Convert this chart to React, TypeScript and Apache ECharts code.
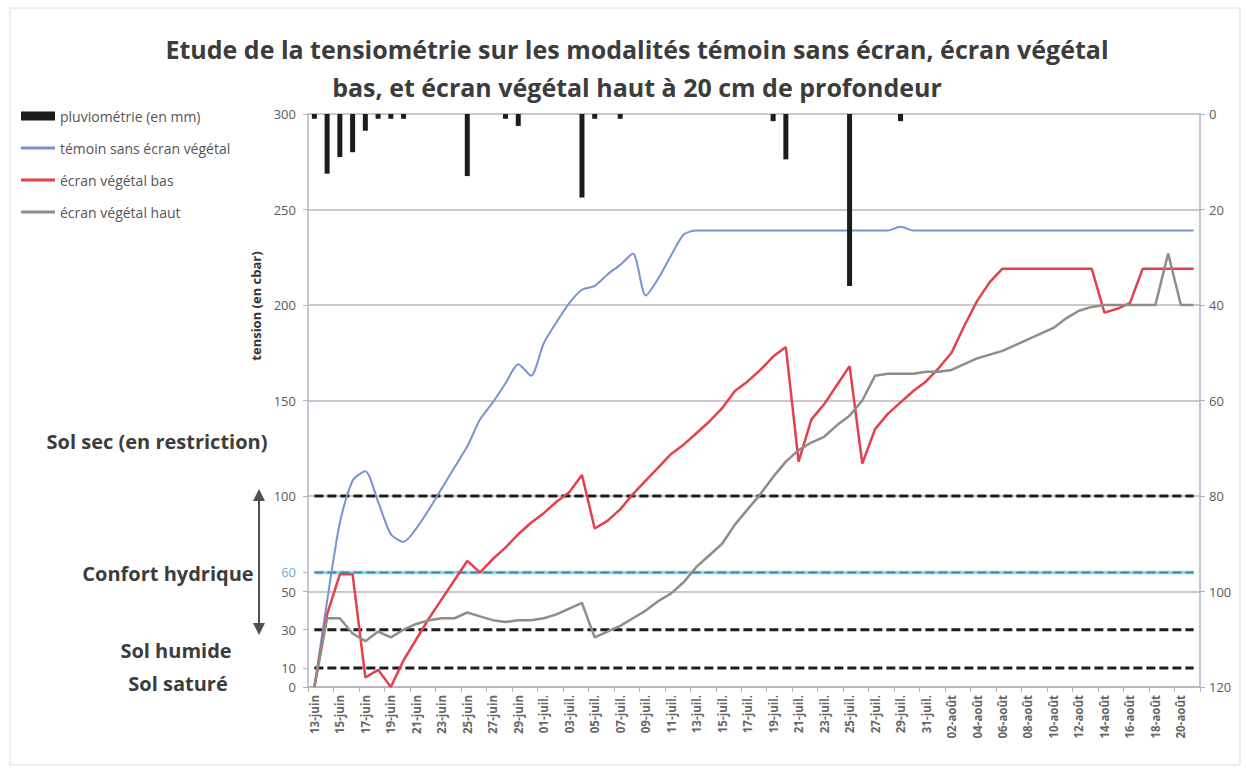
import React, { useEffect, useRef } from "react";
import * as echarts from "echarts";

const FONT = '"Open Sans", "Noto Sans", "DejaVu Sans", sans-serif';

const dates = [
  "13-juin", "14-juin", "15-juin", "16-juin", "17-juin", "18-juin", "19-juin", "20-juin", "21-juin", "22-juin",
  "23-juin", "24-juin", "25-juin", "26-juin", "27-juin", "28-juin", "29-juin", "30-juin", "01-juil.", "02-juil.",
  "03-juil.", "04-juil.", "05-juil.", "06-juil.", "07-juil.", "08-juil.", "09-juil.", "10-juil.", "11-juil.", "12-juil.",
  "13-juil.", "14-juil.", "15-juil.", "16-juil.", "17-juil.", "18-juil.", "19-juil.", "20-juil.", "21-juil.", "22-juil.",
  "23-juil.", "24-juil.", "25-juil.", "26-juil.", "27-juil.", "28-juil.", "29-juil.", "30-juil.", "31-juil.", "01-août",
  "02-août", "03-août", "04-août", "05-août", "06-août", "07-août", "08-août", "09-août", "10-août", "11-août",
  "12-août", "13-août", "14-août", "15-août", "16-août", "17-août", "18-août", "19-août", "20-août", "21-août",
];

// pluviométrie (mm) – right axis, inverted
const rain = [
  1, 12.5, 9, 8, 3.5, 1, 1, 1, null, null,
  null, null, 13, null, null, 1, 2.5, null, null, null,
  null, 17.5, 1, null, 1, null, null, null, null, null,
  null, null, null, null, null, null, 1.5, 9.5, null, null,
  null, null, 36, null, null, null, 1.5, null, null, null,
  null, null, null, null, null, null, null, null, null, null,
  null, null, null, null, null, null, null, null, null, null,
];

// témoin sans écran végétal (cbar)
const temoin = [
  0, 45, 86, 108, 113, 97, 80, 76, 83, 93,
  104, 115, 126, 140, 149, 159, 169, 163, 180, 191,
  201, 208, 210, 216, 221, 227, 205, 214, 226, 237,
  239, 239, 239, 239, 239, 239, 239, 239, 239, 239,
  239, 239, 239, 239, 239, 239, 241, 239, 239, 239,
  239, 239, 239, 239, 239, 239, 239, 239, 239, 239,
  239, 239, 239, 239, 239, 239, 239, 239, 239, 239,
];

// écran végétal bas (cbar)
const ecranBas = [
  0, 38, 59, 59, 5, 9, 0, 14, 25, 36,
  46, 56, 66, 60, 67, 73, 80, 86, 91, 97,
  102, 111, 83, 87, 93, 101, 108, 115, 122, 127,
  133, 139, 146, 155, 160, 166, 173, 178, 118, 140,
  148, 158, 168, 117, 135, 143, 149, 155, 160, 167,
  175, 189, 202, 212, 219, 219, 219, 219, 219, 219,
  219, 219, 196, 198, 201, 219, 219, 219, 219, 219,
];

// écran végétal haut (cbar)
const ecranHaut = [
  0, 36, 36, 28, 24, 29, 26, 30, 33, 35,
  36, 36, 39, 37, 35, 34, 35, 35, 36, 38,
  41, 44, 26, 29, 32, 36, 40, 45, 49, 55,
  63, 69, 75, 85, 93, 101, 110, 118, 124, 128,
  131, 137, 142, 150, 163, 164, 164, 164, 165, 165,
  166, 169, 172, 174, 176, 179, 182, 185, 188, 193,
  197, 199, 200, 200, 200, 200, 200, 227, 200, 200,
];

const leftTicks = [0, 10, 30, 50, 60, 100, 150, 200, 250, 300];

const seuilSec = 100;
const seuilConfort = 60;
const seuilHumide = 30;
const seuilSature = 10;

const constLine = (v: number) => dates.map(() => v);

export default function App() {
  const ref = useRef<HTMLDivElement>(null);

  useEffect(() => {
    if (!ref.current) return;
    const chart = echarts.init(ref.current, undefined, { renderer: "svg" });

    const dashed = (name: string, v: number) => ({
      name,
      type: "line",
      yAxisIndex: 0,
      data: constLine(v),
      showSymbol: false,
      symbol: "none",
      silent: true,
      z: 1,
      lineStyle: { color: "#1e1e1e", width: 3, type: [9, 4] },
    });

    const option: any = {
      animation: false,
      backgroundColor: "#ffffff",
      textStyle: { fontFamily: FONT },
      title: {
        text:
          "Etude de la tensiométrie sur les modalités témoin sans écran, écran végétal\nbas, et écran végétal haut à 20 cm de profondeur",
        left: 632,
        textAlign: "center",
        top: 25,
        textStyle: {
          fontFamily: FONT,
          fontSize: 25,
          fontWeight: "bold",
          color: "#3c3c3c",
          lineHeight: 38,
        },
      },
      legend: [
        {
          data: ["pluviométrie (en mm)"],
          left: 16,
          top: 104,
          icon: "rect",
          itemWidth: 34,
          itemHeight: 9,
          textStyle: { fontFamily: FONT, fontSize: 14, color: "#555" },
        },
        {
          data: ["témoin sans écran végétal", "écran végétal bas", "écran végétal haut"],
          orient: "vertical",
          left: 16,
          top: 134,
          icon: "rect",
          itemWidth: 34,
          itemHeight: 3,
          itemGap: 14,
          textStyle: { fontFamily: FONT, fontSize: 14, color: "#555", lineHeight: 18 },
        },
      ],
      grid: { left: 308, right: 46, top: 114, bottom: 83, containLabel: false },
      xAxis: {
        type: "category",
        data: dates,
        boundaryGap: true,
        axisLine: { show: true, lineStyle: { color: "#b4b0bc", width: 1.5 } },
        axisTick: { show: true, interval: 1, length: 5, lineStyle: { color: "#b4b0bc" } },
        axisLabel: {
          interval: 1,
          rotate: 90,
          fontSize: 11.5,
          fontWeight: "bold",
          color: "#666666",
          margin: 8,
          fontFamily: FONT,
        },
        splitLine: { show: false },
      },
      yAxis: [
        {
          type: "value",
          min: 0,
          max: 300,
          interval: 50,
          position: "left",
          axisLine: { show: true, lineStyle: { color: "#b4b0c4", width: 1.5 } },
          axisTick: { show: true, customValues: leftTicks, length: 5, lineStyle: { color: "#b4b0c4" } },
          axisLabel: {
            customValues: leftTicks,
            margin: 12,
            fontSize: 13,
            fontFamily: FONT,
            color: (v: any) => (Number(v) === seuilConfort ? "#6aaed0" : "#5a5a5a"),
          },
          splitLine: { show: false },
        },
        {
          type: "value",
          min: 0,
          max: 120,
          interval: 20,
          inverse: true,
          position: "right",
          axisLine: { show: true, lineStyle: { color: "#b4b0c4", width: 1.5 } },
          axisTick: { show: true, length: 5, lineStyle: { color: "#b4b0c4" } },
          axisLabel: { margin: 9, fontSize: 13, color: "#5a5a5a", fontFamily: FONT },
          splitLine: { show: true, lineStyle: { color: "#bcb5bd", width: 1.5 } },
        },
      ],
      series: [
        dashed("Sol sec", seuilSec),
        dashed("Sol humide", seuilHumide),
        dashed("Sol saturé", seuilSature),
        {
          name: "confort-fond",
          type: "line",
          data: constLine(seuilConfort),
          symbol: "none",
          silent: true,
          z: 1,
          lineStyle: { color: "#93d5e6", width: 3.5 },
        },
        {
          name: "confort",
          type: "line",
          data: constLine(seuilConfort),
          symbol: "none",
          silent: true,
          z: 1,
          lineStyle: { color: "#2f8ea8", width: 2, type: [9, 4] },
        },
        {
          name: "témoin sans écran végétal",
          type: "line",
          yAxisIndex: 0,
          data: temoin,
          symbol: "none",
          smooth: 0.25,
          z: 3,
          itemStyle: { color: "#7a92d0" },
          lineStyle: { color: "#7a92d0", width: 2 },
        },
        {
          name: "écran végétal bas",
          type: "line",
          yAxisIndex: 0,
          data: ecranBas,
          symbol: "none",
          z: 3,
          itemStyle: { color: "#e5404b" },
          lineStyle: { color: "#e5404b", width: 2.5 },
        },
        {
          name: "écran végétal haut",
          type: "line",
          yAxisIndex: 0,
          data: ecranHaut,
          symbol: "none",
          z: 4,
          itemStyle: { color: "#8e8e84" },
          lineStyle: { color: "#8e8e84", width: 2.5 },
        },
        {
          name: "pluviométrie (en mm)",
          type: "bar",
          yAxisIndex: 1,
          data: rain,
          barWidth: 5,
          z: 5,
          itemStyle: { color: "#1c1c1c" },
        },
      ],
      graphic: [
        {
          type: "rect",
          shape: { x: 10, y: 8, width: 1230, height: 757 },
          style: { fill: "none", stroke: "#dedede", lineWidth: 1 },
          silent: true,
        },
        {
          type: "text",
          x: 256,
          y: 306,
          rotation: Math.PI / 2,
          style: {
            text: "tension (en cbar)",
            fontFamily: FONT,
            fontSize: 13,
            fontWeight: "bold",
            fill: "#333",
            align: "center",
            verticalAlign: "middle",
            textAlign: "center",
            textVerticalAlign: "middle",
          },
        },
        ...[
          { t: "Sol sec (en restriction)", x: 157, y: 441 },
          { t: "Confort hydrique", x: 168, y: 573 },
          { t: "Sol humide", x: 176, y: 650 },
          { t: "Sol saturé", x: 178, y: 683 },
        ].map((a) => ({
          type: "text",
          x: a.x,
          y: a.y,
          style: {
            text: a.t,
            fontFamily: FONT,
            fontSize: 20,
            fontWeight: "bold",
            fill: "#3c3c3c",
            align: "center",
            verticalAlign: "middle",
            textAlign: "center",
            textVerticalAlign: "middle",
          },
        })),
        {
          type: "line",
          shape: { x1: 259, y1: 496, x2: 259, y2: 628 },
          style: { stroke: "#505050", lineWidth: 2 },
        },
        {
          type: "polygon",
          shape: { points: [[259, 489], [253, 501], [265, 501]] },
          style: { fill: "#505050" },
        },
        {
          type: "polygon",
          shape: { points: [[259, 635], [253, 623], [265, 623]] },
          style: { fill: "#505050" },
        },
      ],
    };

    chart.setOption(option);
    return () => chart.dispose();
  }, []);

  return (
    <div
      ref={ref}
      style={{ position: "absolute", left: 0, top: 0, width: 1246, height: 770, background: "#fff" }}
    />
  );
}
